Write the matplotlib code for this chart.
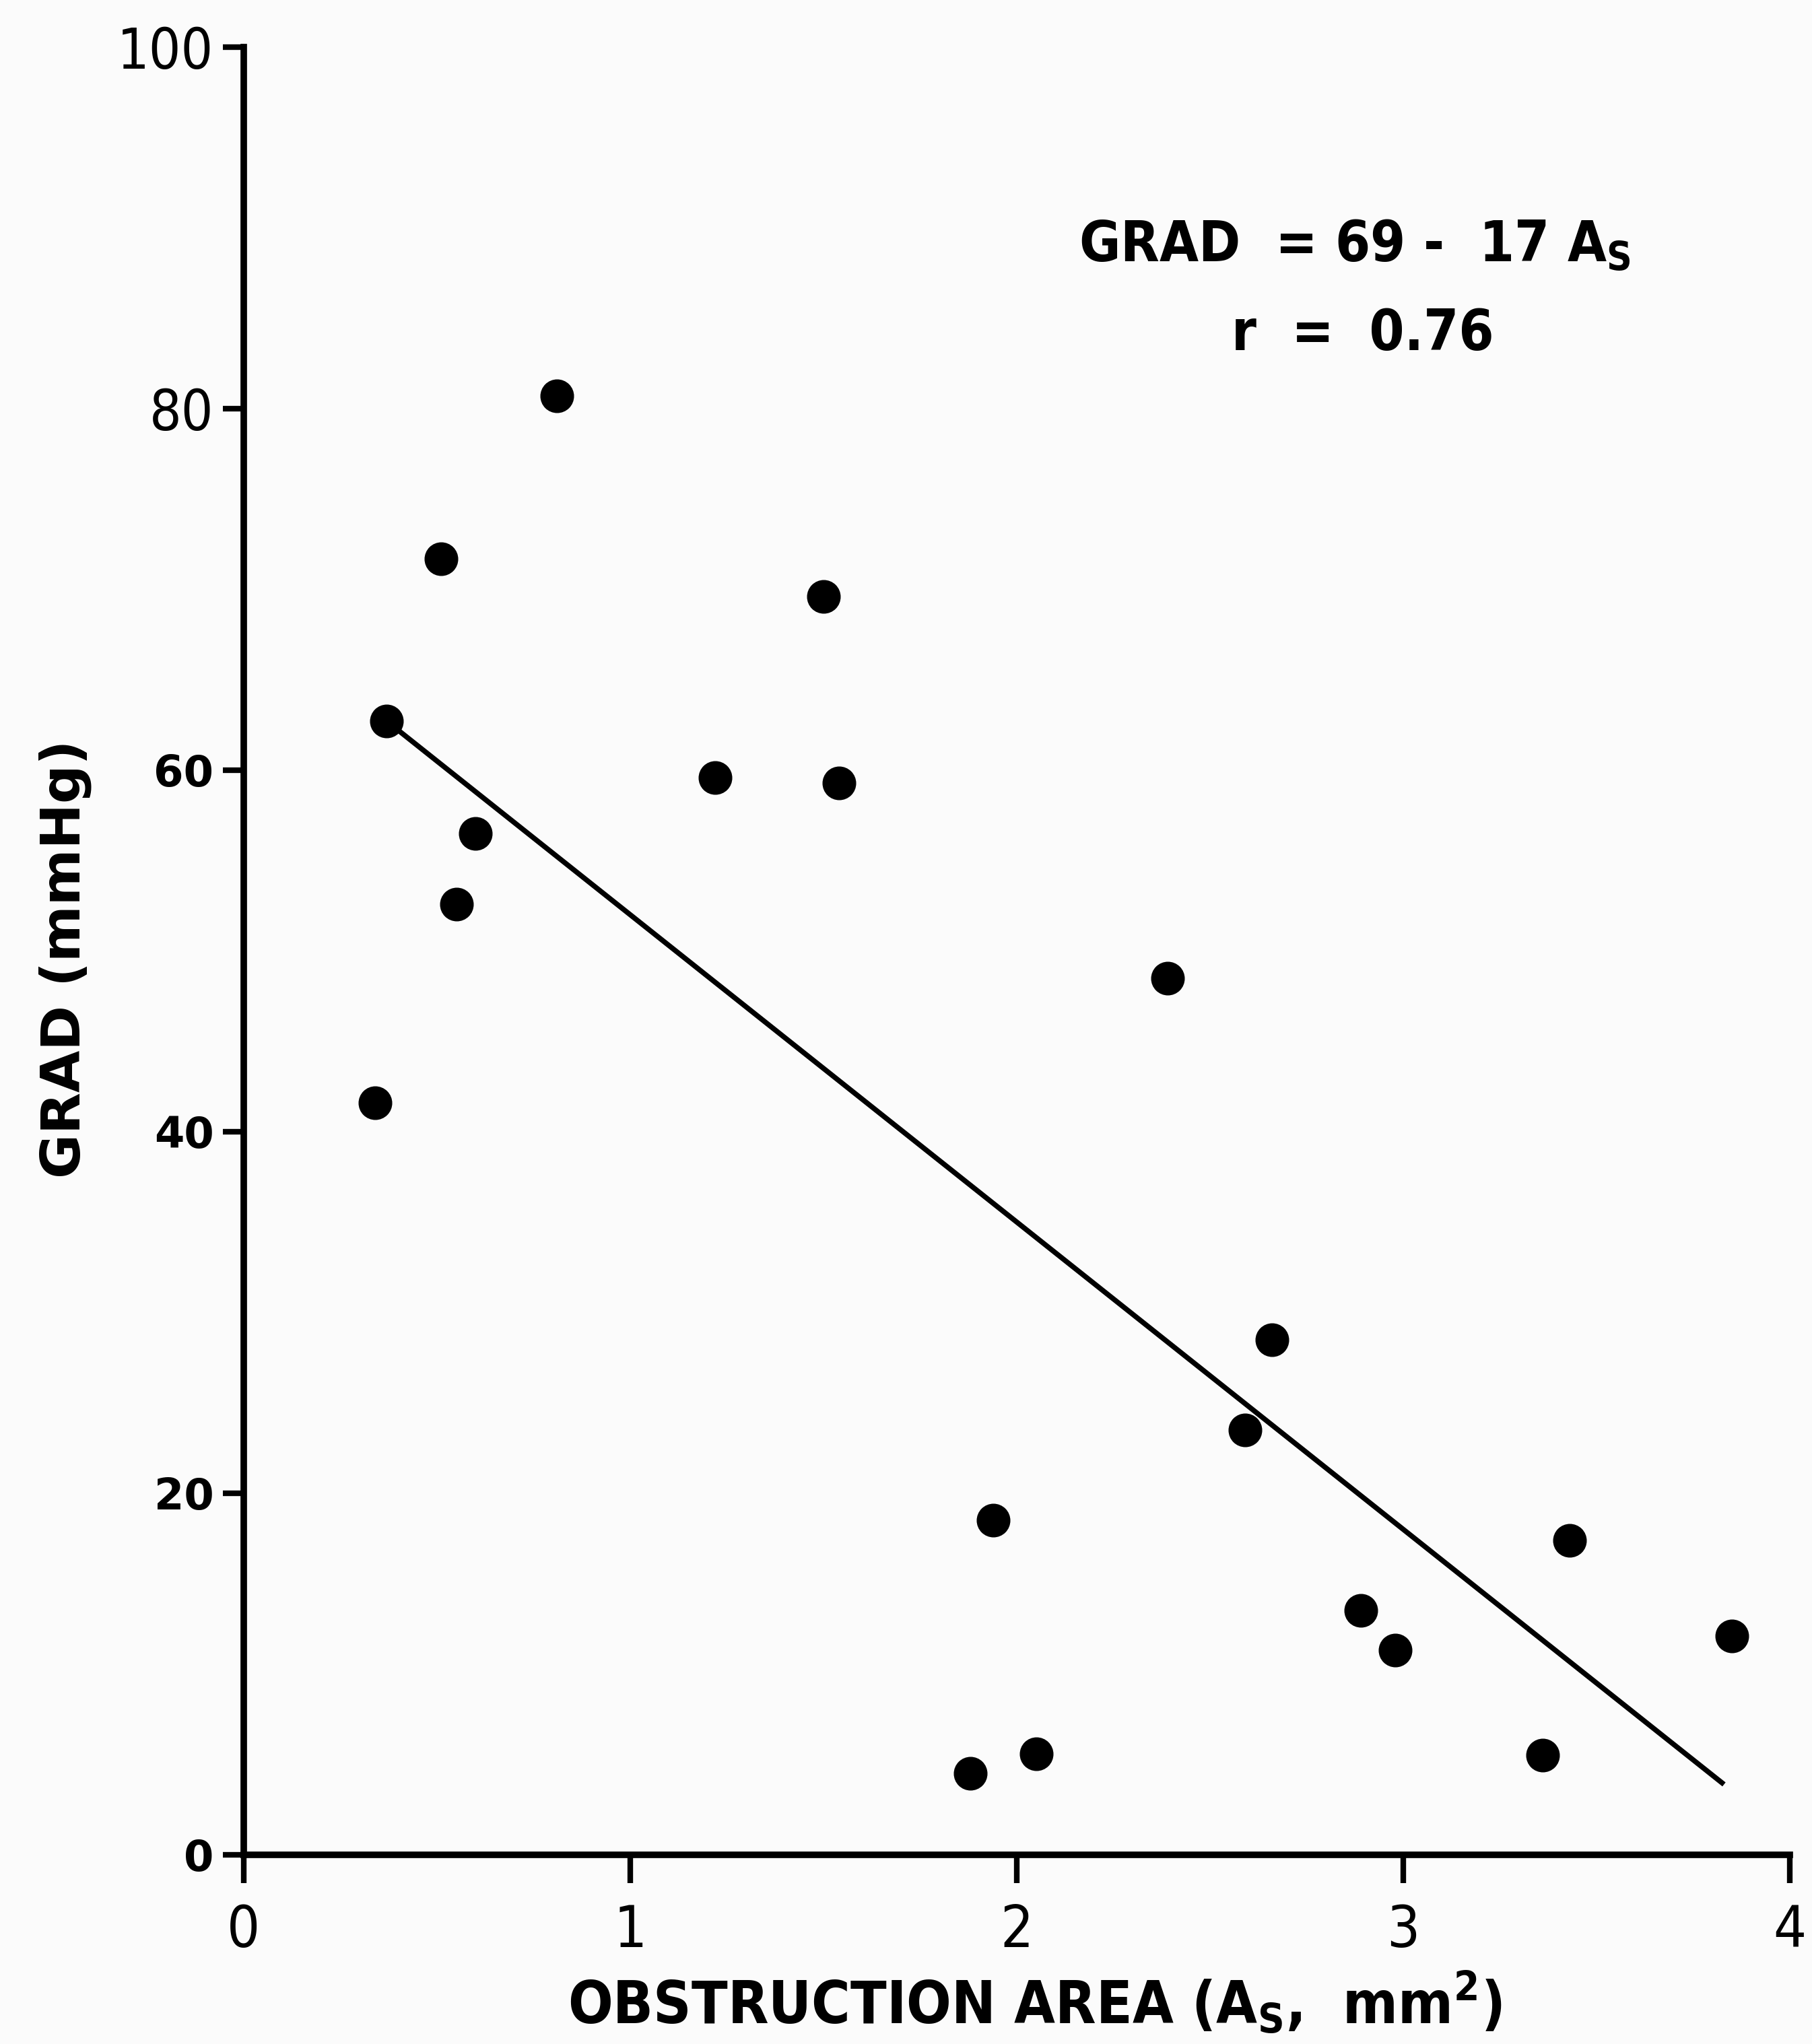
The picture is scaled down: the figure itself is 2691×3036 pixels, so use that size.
import numpy as np
import matplotlib
matplotlib.use('Agg')
import matplotlib.pyplot as plt

# data
area = [0.81, 0.51, 1.50, 0.37, 1.22, 1.54, 0.60, 0.55, 2.39, 0.34,
        2.66, 2.59, 1.94, 3.43, 2.89, 2.98, 3.85, 2.05, 3.36, 1.88]
grad = [80.7, 71.7, 69.6, 62.7, 59.6, 59.3, 56.5, 52.6, 48.5, 41.6,
        28.5, 23.5, 18.5, 17.4, 13.5, 11.3, 12.1, 5.6, 5.5, 4.5]

intercept = 69
slope = -17
fit_range = [0.37, 3.83]

xticks = [0, 1, 2, 3, 4]
yticks = [0, 20, 40, 60, 80, 100]
narrow_yticks = [80, 100]   # these two are printed in the thin face

bg = '#fbfbfb'

fig = plt.figure(figsize=(26.91, 30.36), dpi=100, facecolor=bg)
ax = fig.add_axes([0.1345, 0.0926, 0.8532, 0.8844], facecolor=bg)

ax.plot(area, grad, 'o', color='black', markersize=35, zorder=3)
xf = np.array(fit_range)
ax.plot(xf, intercept + slope * xf, color='black', lw=5.5, solid_capstyle='butt')

ax.set_xlim(0, 4)
ax.set_ylim(0, 100)
for s in ['top', 'right']:
    ax.spines[s].set_visible(False)
for s in ['left', 'bottom']:
    ax.spines[s].set_linewidth(7)

ax.set_xticks(xticks)
ax.set_yticks(yticks)
ax.tick_params(axis='x', direction='out', length=30, width=6, pad=22)
ax.tick_params(axis='y', direction='out', length=22, width=6, pad=10)
for lab in ax.get_xticklabels():
    lab.set_fontsize(62)
    lab.set_fontstretch('condensed')
for v, lab in zip(yticks, ax.get_yticklabels()):
    if v in narrow_yticks:
        lab.set_fontsize(60)
        lab.set_fontstretch('condensed')
    else:
        lab.set_fontsize(46)
        lab.set_fontweight('bold')

ax.text(2.16, 89.0, r'GRAD  = 69 -  17 A$_\mathregular{S}$', fontsize=60,
        fontstretch='condensed', fontweight='bold', va='center', ha='left')
ax.text(2.556, 84.1, 'r  =  0.76', fontsize=60, fontstretch='condensed',
        fontweight='bold', va='center', ha='left')

fig.text(0.571, 0.0205, r'OBSTRUCTION AREA (A$_\mathregular{S}$,  mm$^\mathregular{2}$)',
         fontsize=63, fontstretch='condensed', fontweight='bold',
         ha='center', va='center')
fig.text(0.036, 0.531, 'GRAD (mmHg)', fontsize=58, fontweight='bold',
         rotation=90, ha='center', va='center')

fig.savefig('out.png', dpi=100, facecolor=bg)
